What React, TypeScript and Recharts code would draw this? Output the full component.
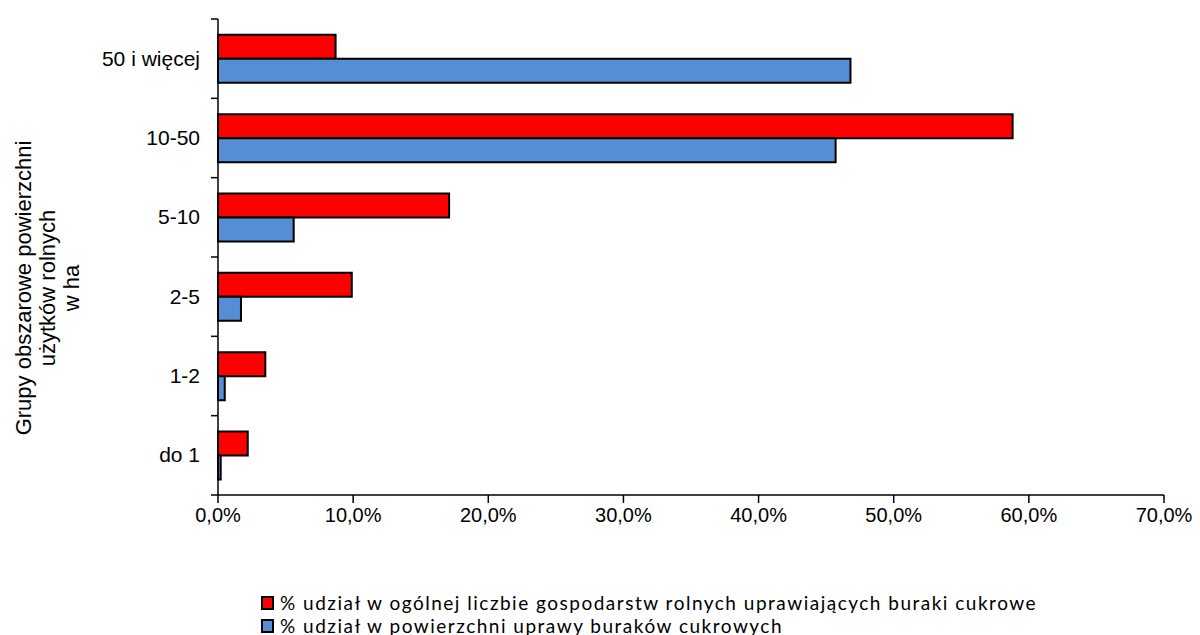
import React from "react";
import { BarChart, Bar, XAxis, YAxis } from "recharts";

const kategorie = ["50 i więcej", "10-50", "5-10", "2-5", "1-2", "do 1"];
const udzialGospodarstw = [8.7, 58.8, 17.1, 9.9, 3.5, 2.2];
const udzialPowierzchni = [46.8, 45.7, 5.6, 1.7, 0.5, 0.2];
const xTicks = [0, 10, 20, 30, 40, 50, 60, 70];
const serie = [
  { key: "gosp", nazwa: "% udział w ogólnej liczbie gospodarstw rolnych uprawiających buraki cukrowe", kolor: "#FF0000" },
  { key: "pow", nazwa: "% udział w powierzchni uprawy buraków cukrowych", kolor: "#558ED5" },
];
const tytulOsi = ["Grupy obszarowe powierzchni", "użytków rolnych", "w ha"];

const dane = kategorie.map((k, i) => ({
  kategoria: k,
  gosp: udzialGospodarstw[i],
  pow: udzialPowierzchni[i],
}));

const fmt = (v: number) => v.toFixed(1).replace(".", ",") + "%";

const FONT = "'Liberation Sans', Arial, sans-serif";
const BAND = 476 / kategorie.length;

// etykiety kategorii + kreski podziałki na granicach pasm
const YTick = (props: any) => {
  const { x, y, payload, index } = props;
  const osX = x + 6;
  const last = index === kategorie.length - 1;
  return (
    <g>
      <line x1={osX - 7} x2={osX} y1={y - BAND / 2} y2={y - BAND / 2} stroke="#000" strokeWidth={1.5} />
      {last && (
        <line x1={osX - 7} x2={osX} y1={y + BAND / 2} y2={y + BAND / 2} stroke="#000" strokeWidth={1.5} />
      )}
      <text x={osX - 18} y={y} dy={7} textAnchor="end" fontSize={21} fill="#000" fontFamily={FONT}>
        {payload.value}
      </text>
    </g>
  );
};

const OsLabel = () => (
  <text transform="rotate(-90)" textAnchor="middle" fontSize={22} fill="#000" fontFamily={FONT}>
    {tytulOsi.map((t, i) => (
      <tspan key={i} x={-288} y={31 + i * 24}>
        {t}
      </tspan>
    ))}
  </text>
);

export default function App() {
  return (
    <div style={{ position: "absolute", left: 0, top: 0, width: 1200, height: 635, background: "#fff" }}>
      <BarChart
        width={1200}
        height={635}
        data={dane}
        layout="vertical"
        margin={{ top: 19, right: 36, left: 0, bottom: 110 }}
        barCategoryGap="20%"
        barGap={0}
      >
        <XAxis
          type="number"
          domain={[0, 70]}
          ticks={xTicks}
          tickFormatter={fmt}
          height={30}
          tickSize={8}
          tickMargin={5}
          stroke="#000"
          axisLine={{ stroke: "#000", strokeWidth: 1.5 }}
          tickLine={{ stroke: "#000", strokeWidth: 1.5 }}
          tick={{ fill: "#000", fontSize: 20, fontFamily: FONT }}
          interval={0}
        />
        <YAxis
          type="category"
          dataKey="kategoria"
          width={218}
          tickLine={false}
          axisLine={{ stroke: "#000", strokeWidth: 1.5 }}
          tick={<YTick />}
          tickMargin={0}
          interval={0}
          label={<OsLabel />}
        />
        {serie.map((s) => (
          <Bar
            key={s.key}
            dataKey={s.key}
            fill={s.kolor}
            stroke="#000"
            strokeWidth={2}
            isAnimationActive={false}
          />
        ))}
      </BarChart>
      <div
        style={{
          position: "absolute",
          left: 261,
          top: 591,
          fontFamily: "Lato, sans-serif",
          fontSize: 19,
          letterSpacing: 1.5,
          color: "#000",
          lineHeight: "23px",
        }}
      >
        {serie.map((s) => (
          <div key={s.key} style={{ display: "flex", alignItems: "center", whiteSpace: "nowrap" }}>
            <span
              style={{
                display: "inline-block",
                width: 9,
                height: 10,
                background: s.kolor,
                border: "2px solid #000",
                marginRight: 6,
              }}
            />
            {s.nazwa}
          </div>
        ))}
      </div>
    </div>
  );
}
